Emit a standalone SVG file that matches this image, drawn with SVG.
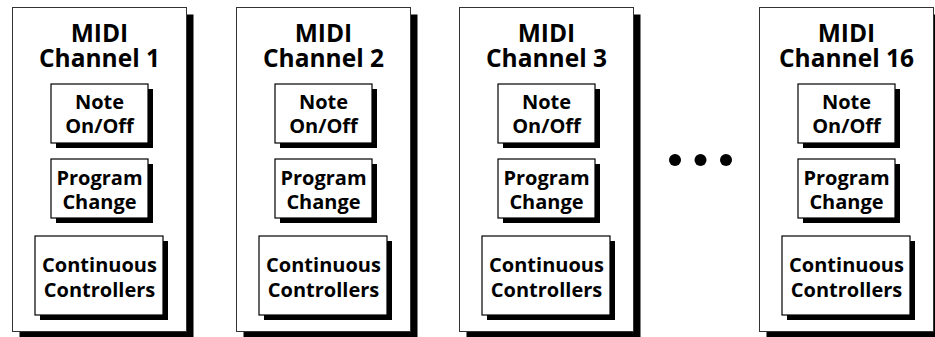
<svg xmlns="http://www.w3.org/2000/svg" width="935" height="337" viewBox="0 0 935 337">
  <style>
    .shadow { fill: #000; }
    .frame { fill: #fff; stroke: #333; stroke-width: 1; }
    .box { fill: #fff; stroke: #000; stroke-width: 1.2; }
    .title { font-family: "Open Sans", "Liberation Sans", sans-serif; font-weight: bold; font-size: 24.5px; text-anchor: middle; fill: #000; }
    .label { font-family: "Open Sans", "Liberation Sans", sans-serif; font-weight: bold; font-size: 20px; text-anchor: middle; fill: #000; }
    .dot { fill: #000; }
  </style>
  <defs>
    <g id="channelBody">
      <rect class="shadow" x="7.5" y="14.5" width="174" height="324"/>
      <rect class="frame" x="0.5" y="7.5" width="174" height="324"/>
      <rect class="shadow" x="44" y="89" width="97" height="59"/>
      <rect class="box" x="39" y="84" width="97" height="59"/>
      <rect class="shadow" x="44" y="164" width="97" height="59"/>
      <rect class="box" x="39" y="159" width="97" height="59"/>
      <rect class="shadow" x="28" y="241" width="128" height="79"/>
      <rect class="box" x="23" y="236" width="128" height="79"/>
    </g>
  </defs>

  <g id="connectors"/>

  <g id="channel1" transform="translate(12,0)">
    <use href="#channelBody"/>
    <text class="title" x="87.5" y="41.5">MIDI<tspan x="87.5" y="66.5">Channel 1</tspan></text>
    <text class="label" x="87.5" y="109">Note<tspan x="87.5" y="133">On/Off</tspan></text>
    <text class="label" x="87.5" y="185">Program<tspan x="87.5" y="208.5">Change</tspan></text>
    <text class="label" x="87.5" y="272">Continuous<tspan x="87.5" y="297">Controllers</tspan></text>
  </g>

  <g id="channel2" transform="translate(236,0)">
    <use href="#channelBody"/>
    <text class="title" x="87.5" y="41.5">MIDI<tspan x="87.5" y="66.5">Channel 2</tspan></text>
    <text class="label" x="87.5" y="109">Note<tspan x="87.5" y="133">On/Off</tspan></text>
    <text class="label" x="87.5" y="185">Program<tspan x="87.5" y="208.5">Change</tspan></text>
    <text class="label" x="87.5" y="272">Continuous<tspan x="87.5" y="297">Controllers</tspan></text>
  </g>

  <g id="channel3" transform="translate(459,0)">
    <use href="#channelBody"/>
    <text class="title" x="87.5" y="41.5">MIDI<tspan x="87.5" y="66.5">Channel 3</tspan></text>
    <text class="label" x="87.5" y="109">Note<tspan x="87.5" y="133">On/Off</tspan></text>
    <text class="label" x="87.5" y="185">Program<tspan x="87.5" y="208.5">Change</tspan></text>
    <text class="label" x="87.5" y="272">Continuous<tspan x="87.5" y="297">Controllers</tspan></text>
  </g>

  <g id="ellipsis">
    <circle class="dot" cx="675" cy="160" r="6"/>
    <circle class="dot" cx="700.5" cy="160" r="6"/>
    <circle class="dot" cx="726" cy="160" r="6"/>
  </g>

  <g id="channel16" transform="translate(759,0)">
    <use href="#channelBody"/>
    <text class="title" x="87.5" y="41.5">MIDI<tspan x="87.5" y="66.5">Channel 16</tspan></text>
    <text class="label" x="87.5" y="109">Note<tspan x="87.5" y="133">On/Off</tspan></text>
    <text class="label" x="87.5" y="185">Program<tspan x="87.5" y="208.5">Change</tspan></text>
    <text class="label" x="87.5" y="272">Continuous<tspan x="87.5" y="297">Controllers</tspan></text>
  </g>
</svg>
